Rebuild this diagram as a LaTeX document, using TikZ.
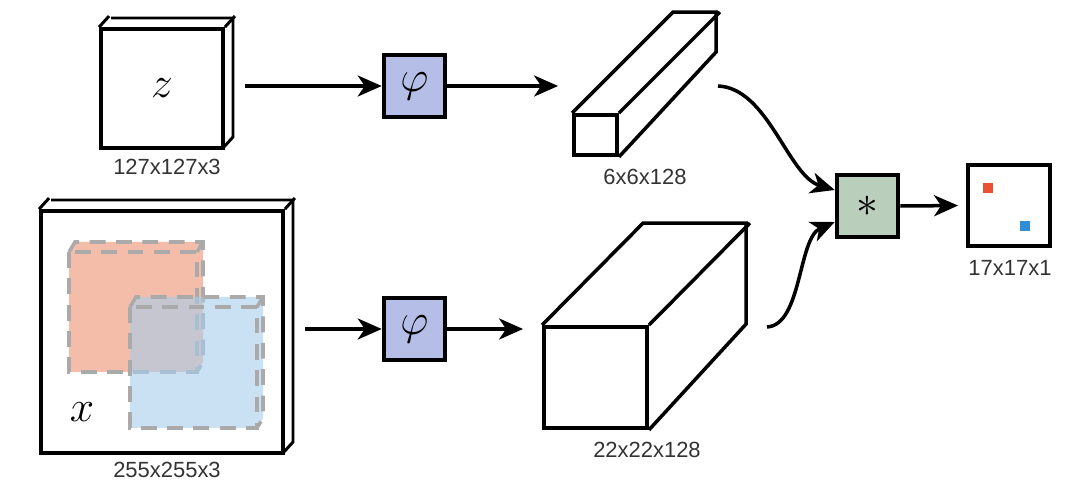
\documentclass[tikz,border=0pt]{standalone}
\usepackage{fontspec}
\setsansfont{Liberation Sans}
\usetikzlibrary{arrows.meta, positioning, calc}
\definecolor{PhiBlue}{RGB}{180,190,230}
\definecolor{StarGreen}{RGB}{186,206,188}
\definecolor{PatchRed}{RGB}{240,168,142}
\definecolor{PatchBlue}{RGB}{168,204,236}
\definecolor{PatchEdge}{RGB}{170,170,170}
\definecolor{DotRed}{RGB}{234,80,52}
\definecolor{DotBlue}{RGB}{50,142,212}

\tikzset{
  face/.style={draw, line width=2.2pt, fill=white, inner sep=0pt},
  depth/.style={line width=1.7pt, line join=miter},
  opbox/.style={draw, line width=2.3pt, minimum size=1.23cm, inner sep=0pt},
  link/.style={line width=2pt, -{Stealth[length=4.8mm, width=4.2mm, inset=1.4mm]}},
  dimlabel/.style={font=\sffamily\fontsize{12.5}{14}\selectfont, text=black!80, inner sep=1pt},
  patch/.style={draw=PatchEdge, dashed, dash pattern=on 9pt off 6pt, line width=2pt},
}

\begin{document}
\begin{tikzpicture}[x=0.02cm, y=-0.02cm]
  \useasboundingbox (0,0) rectangle (1080,496);

  % exemplar z
  \draw[depth] (111,18) -- (233,18) -- (233,137) -- (223,148);
  \node[face, minimum width=2.44cm, minimum height=2.38cm] (zin) at (162,88.5)
    {\fontsize{28}{30}\selectfont$z$};
  \draw[depth] (zin.north west) -- ++(10,-11);
  \draw[depth] (zin.north east) -- ++(10,-11);
  \node[dimlabel] (zdim) at (167,167) {127x127x3};

  % search image x
  \draw[depth] (51,200) -- (293,200) -- (293,442) -- (283,453);
  \node[face, minimum width=4.84cm, minimum height=4.84cm] (xin) at (162,332) {};
  \draw[depth] (xin.north west) -- ++(10,-11);
  \draw[depth] (xin.north east) -- ++(10,-11);
  \node[dimlabel] (xdim) at (167,470) {255x255x3};

  % candidate patches
  \fill[PatchRed, opacity=0.75] (69,252) -- (75,242) -- (203,242) -- (203,362) -- (197,372) -- (69,372) -- cycle;
  \draw[patch] (69,252) rectangle (197,372);
  \draw[patch] (69,252) -- (75,242) -- (203,242) -- (203,362) -- (197,372);
  \draw[patch] (197,252) -- (203,242);
  \fill[PatchBlue, opacity=0.6] (130,307) -- (136,297) -- (263,297) -- (263,418) -- (257,428) -- (130,428) -- cycle;
  \draw[patch] (130,307) rectangle (257,428);
  \draw[patch] (130,307) -- (136,297) -- (263,297) -- (263,418) -- (257,428);
  \draw[patch] (257,307) -- (263,297);
  \node (xlab) at (82,412) {\fontsize{28}{30}\selectfont$x$};

  % embedding functions
  \node[opbox, fill=PhiBlue] (phiz) at (414.5,86) {\fontsize{24}{26}\selectfont$\varphi$};
  \node[opbox, fill=PhiBlue] (phix) at (414.5,329) {\fontsize{24}{26}\selectfont$\varphi$};

  % feature maps
  \node[face, minimum width=0.86cm, minimum height=0.8cm] (featz) at (595.5,135) {};
  \draw[depth, line width=2pt] (featz.north west) -- ++(101,-101) -- ++(43,0) -- ++(0,40) -- (featz.south east);
  \draw[depth, line width=2pt] (featz.north east) -- ++(101,-101);
  \node[dimlabel] (featzdim) at (645,177) {6x6x128};

  \node[face, minimum width=2.06cm, minimum height=2.02cm] (featx) at (595.5,377.5) {};
  \draw[depth, line width=2pt] (featx.north west) -- ++(101,-102) -- ++(103,0) -- ++(0,101) -- (featx.south east);
  \draw[depth, line width=2pt] (featx.north east) -- ++(101,-102);
  \node[dimlabel] (featxdim) at (647,450) {22x22x128};

  % cross-correlation and score map
  \node[opbox, fill=StarGreen] (xcorr) at (867.5,206) {\fontsize{32}{32}\selectfont$\ast$};
  \node[draw, line width=2.2pt, minimum width=1.64cm, minimum height=1.62cm] (score) at (1009,205.5) {};
  \fill[DotRed] (983,183) rectangle (993,193);
  \fill[DotBlue] (1020,221) rectangle (1030,231);
  \node[dimlabel] (scoredim) at (1010,268) {17x17x1};

  \coordinate (zout) at (718,86);
  \coordinate (xout) at (767,327);

  % connectors
  \draw[link, shorten <=0.4cm] (zin.east |- phiz.west) -- (phiz.west);
  \draw[link, shorten >=0.28cm] (phiz.east) -- (phiz.east -| featz.west);
  \draw[link, shorten <=0.4cm] (xin.east |- phix.west) -- (phix.west);
  \draw[link, shorten >=0.38cm] (phix.east) -- (phix.east -| featx.west);
  \draw[link] (zout) .. controls (768,88) and (788,176) .. ($(xcorr.west)+(0,-16)$);
  \draw[link] (xout) .. controls (802,325) and (798,238) .. ($(xcorr.west)+(0,16)$);
  \draw[link, shorten >=0.16cm] (xcorr.east) -- (score.west);
\end{tikzpicture}
\end{document}
